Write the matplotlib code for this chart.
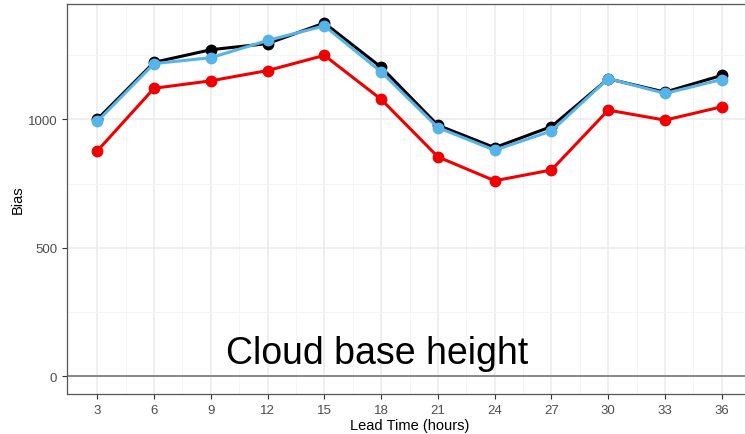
import matplotlib
matplotlib.use("Agg")
import matplotlib.pyplot as plt
import numpy as np

plt.rcParams['font.family'] = ['Liberation Sans', 'DejaVu Sans']

lead_time = [3, 6, 9, 12, 15, 18, 21, 24, 27, 30, 33, 36]
series_black = [1000, 1222, 1271, 1295, 1375, 1203, 977, 890, 972, 1158, 1106, 1171]
series_blue = [992, 1217, 1240, 1307, 1364, 1185, 968, 880, 955, 1159, 1101, 1155]
series_red = [877, 1121, 1150, 1190, 1249, 1078, 854, 761, 803, 1036, 997, 1049]
y_ticks = [0, 500, 1000]
title_text = "Cloud base height"

W, H = 745, 435
fig = plt.figure(figsize=(W/100, H/100), dpi=100)
ax = fig.add_axes([67/W, (H-395)/H, (753-67)/W, (395-5)/H])

ax.set_xlim(1.4, 37.65)
ax.set_ylim(-69, 1449)

for x in np.arange(3, 37, 3):
    ax.axvline(x, color='#ebebeb', lw=1.1, zorder=0)
for x in np.arange(4.5, 36, 3):
    ax.axvline(x, color='#f4f4f4', lw=0.6, zorder=0)
for y in y_ticks:
    ax.axhline(y, color='#ebebeb', lw=1.1, zorder=0)
for y in [250, 750, 1250]:
    ax.axhline(y, color='#f4f4f4', lw=0.6, zorder=0)

ax.axhline(0, color='#808080', lw=1.3, zorder=1)

ms = 7.5
lw = 2.2
ax.plot(lead_time, series_black, color='black', lw=lw, marker='o', ms=ms, zorder=3)
ax.plot(lead_time, series_red, color='#f00000', lw=lw, marker='o', ms=ms, zorder=3)
ax.plot(lead_time, series_blue, color='#56b4e9', lw=lw, marker='o', ms=ms, zorder=4)

ax.text(17.8, 92, title_text, fontsize=27, ha='center', va='center', color='black')

ax.set_xticks(lead_time)
ax.set_xticklabels([str(v) for v in lead_time])
ax.set_yticks(y_ticks)
ax.set_yticklabels([str(v) for v in y_ticks])
ax.tick_params(axis='both', colors='#333333', labelcolor='#4d4d4d', labelsize=9.5, length=3.5, width=0.8)
for s in ax.spines.values():
    s.set_color('#555555')
    s.set_linewidth(0.9)

ax.set_xlabel("Lead Time (hours)", fontsize=10.5, color='black', labelpad=2)
ax.set_ylabel("Bias", fontsize=10.5, color='black', labelpad=2)

fig.savefig("out.png", dpi=100)
